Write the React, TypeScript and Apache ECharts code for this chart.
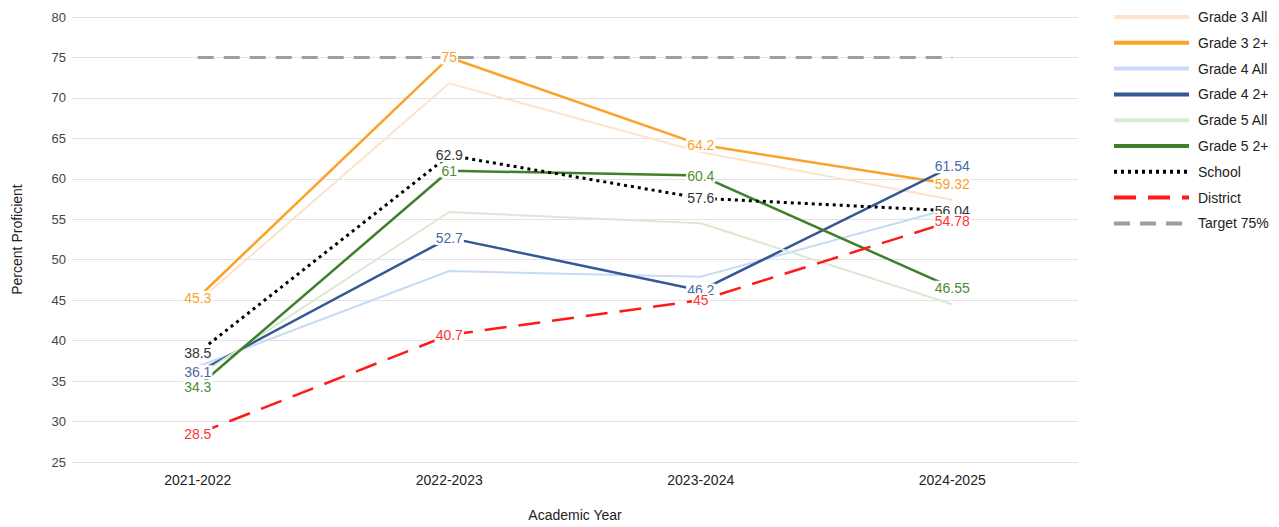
import React, { useEffect, useRef } from "react";
import * as echarts from "echarts";

const years = ["2021-2022", "2022-2023", "2023-2024", "2024-2025"];
const grade3All = [44.8, 71.8, 63.3, 57.4];
const grade3Plus = [45.3, 75, 64.2, 59.32];
const grade4All = [36.8, 48.6, 47.9, 56.4];
const grade4Plus = [36.1, 52.7, 46.2, 61.54];
const grade5All = [35.6, 55.9, 54.5, 44.5];
const grade5Plus = [34.3, 61, 60.4, 46.55];
const school = [38.5, 62.9, 57.6, 56.04];
const district = [28.5, 40.7, 45, 54.78];
const target = [75, 75, 75, 75];

const FONT = "'Liberation Sans', Arial, sans-serif";

function mkSeries(
  name: string,
  data: number[],
  color: string,
  width: number,
  type: any,
  labelColor: string | null
) {
  return {
    name,
    type: "line",
    data,
    symbol: "circle",
    symbolSize: 1,
    showSymbol: true,
    lineStyle: { color, width, type, cap: "butt" },
    itemStyle: { color: "rgba(0,0,0,0)" },
    label: labelColor
      ? {
          show: true,
          position: "inside",
          color: labelColor,
          fontSize: 14,
          fontFamily: FONT,
          backgroundColor: "#ffffff",
          padding: [0, 1],
        }
      : { show: false },
    emphasis: { disabled: true },
  };
}

export default function App() {
  const ref = useRef<HTMLDivElement>(null);
  useEffect(() => {
    if (!ref.current) return;
    const chart = echarts.init(ref.current, null, { renderer: "svg" });
    chart.setOption({
      animation: false,
      backgroundColor: "#ffffff",
      textStyle: { fontFamily: FONT },
      grid: { left: 72, right: 201, top: 17, bottom: 58, containLabel: false },
      legend: {
        orient: "vertical",
        left: 1112,
        top: 10,
        padding: 0,
        itemWidth: 75,
        itemHeight: 14,
        itemGap: 11.8,
        itemStyle: { opacity: 0 },
        lineStyle: { width: 4 },
        textStyle: {
          fontSize: 14,
          lineHeight: 14,
          color: "#222222",
          fontFamily: FONT,
          padding: [0, 0, 0, 4],
        },
        data: [
          "Grade 3 All",
          "Grade 3 2+",
          "Grade 4 All",
          "Grade 4 2+",
          "Grade 5 All",
          "Grade 5 2+",
          "School",
          "District",
          "Target 75%",
        ],
      },
      xAxis: {
        type: "category",
        data: years,
        boundaryGap: true,
        name: "Academic Year",
        nameLocation: "middle",
        nameGap: 46,
        nameTextStyle: { fontSize: 14, color: "#222222", fontFamily: FONT },
        axisLine: { show: false },
        axisTick: { show: false },
        axisLabel: { fontSize: 14, color: "#222222", margin: 11, fontFamily: FONT },
      },
      yAxis: {
        type: "value",
        min: 25,
        max: 80,
        interval: 5,
        name: "Percent Proficient",
        nameLocation: "middle",
        nameRotate: 90,
        nameGap: 48,
        nameTextStyle: { fontSize: 14, color: "#222222", fontFamily: FONT },
        axisLine: { show: false },
        axisTick: { show: false },
        axisLabel: { fontSize: 13, color: "#444444", margin: 6, fontFamily: FONT },
        splitLine: { lineStyle: { color: "#e3e3e3", width: 1 } },
      },
      series: [
        mkSeries("Grade 3 All", grade3All, "#fde3cc", 2, "solid", null),
        mkSeries("Grade 3 2+", grade3Plus, "#fba227", 2.5, "solid", "#f9a229"),
        mkSeries("Grade 4 All", grade4All, "#c9daf8", 2, "solid", null),
        mkSeries("Grade 4 2+", grade4Plus, "#365894", 2.5, "solid", "#4a6aa6"),
        mkSeries("Grade 5 All", grade5All, "#d9ead3", 2, "solid", null),
        mkSeries("Grade 5 2+", grade5Plus, "#3f7f2a", 2.5, "solid", "#4d8b37"),
        mkSeries("School", school, "#000000", 3, [3, 4], "#333333"),
        mkSeries("District", district, "#ff1a1a", 2.5, [22, 12], "#ff3333"),
        mkSeries("Target 75%", target, "#9e9e9e", 3, [16, 10], null),
      ],
    });
    return () => chart.dispose();
  }, []);
  return <div ref={ref} style={{ width: 1279, height: 527, position: "absolute", left: 0, top: 0 }} />;
}
